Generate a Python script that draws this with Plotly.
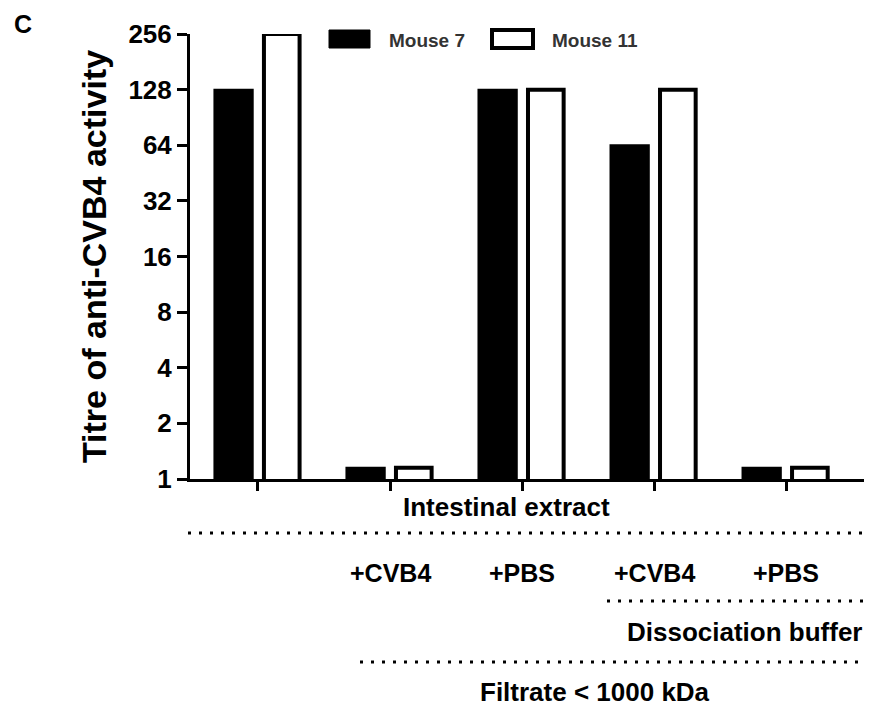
import plotly.graph_objects as go

# ---- data ----
categories = ["Intestinal extract", "IE + Filtrate + CVB4", "IE + Filtrate + PBS",
              "IE + Filtrate + DB + CVB4", "IE + Filtrate + DB + PBS"]
mouse7 = [128, 1.15, 128, 64, 1.15]
mouse11 = [256, 1.15, 128, 128, 1.15]
series_names = ["Mouse 7", "Mouse 11"]
y_ticks = [1, 2, 4, 8, 16, 32, 64, 128, 256]
sub_labels = ["", "+CVB4", "+PBS", "+CVB4", "+PBS"]
group_labels = ["Intestinal extract", "Dissociation buffer", "Filtrate < 1000 kDa"]
y_title = "Titre of anti-CVB4 activity"
panel_label = "C"

FONT = "Liberation Sans"

# screen-space plot area (page has an 8px body margin)
PX0, PX1, PY0, PY1 = 190, 864, 34, 479


def px(xp):
    return (xp - PX0) / (PX1 - PX0)


def py(yp):
    return (PY1 - yp) / (PY1 - PY0)


fig = go.Figure()
fig.add_trace(go.Bar(x=categories, y=mouse7, name=series_names[0],
                     marker=dict(color="black", line=dict(color="black", width=2)),
                     offset=-0.33, width=0.29, showlegend=False))
fig.add_trace(go.Bar(x=categories, y=mouse11, name=series_names[1],
                     marker=dict(color="white", line=dict(color="black", width=4)),
                     offset=0.045, width=0.27, showlegend=False))

fig.update_layout(
    width=864, height=698,
    margin=dict(l=182, r=8, t=26, b=227),
    paper_bgcolor="white", plot_bgcolor="white",
    barmode="overlay",
    font=dict(family=FONT, color="black"),
    xaxis=dict(type="category", categoryorder="array", categoryarray=categories,
               range=[-0.515, 4.59], showline=True, linewidth=3, linecolor="black",
               ticks="outside", ticklen=9, tickwidth=3, tickcolor="black",
               showticklabels=False, showgrid=False, zeroline=False),
    yaxis=dict(type="log", range=[0, 2.40824], tickvals=y_ticks,
               ticktext=[str(v) for v in y_ticks],
               showline=True, linewidth=3, linecolor="black",
               ticks="outside", ticklen=10, tickwidth=3, tickcolor="black",
               tickfont=dict(size=26, family=FONT, weight="bold"),
               showgrid=False, zeroline=False,
               title=dict(text=y_title, font=dict(size=34, family=FONT, weight="bold"),
                          standoff=12)),
)

# custom legend
leg = [(329, 370, "black", 1), (492, 533, "white", 4)]
for (x0, x1, col, lw), nm in zip(leg, series_names):
    fig.add_shape(type="rect", xref="paper", yref="paper",
                  x0=px(x0), x1=px(x1), y0=py(48), y1=py(30),
                  fillcolor=col, line=dict(color="black", width=lw))
    fig.add_annotation(text=nm, xref="paper", yref="paper",
                       x=px(x1 + 17), y=py(40),
                       xanchor="left", yanchor="middle", showarrow=False,
                       font=dict(size=19, family=FONT, color="#333333", weight="bold"))

# panel label
fig.add_annotation(text=panel_label, xref="paper", yref="paper",
                   x=px(12), y=py(24), xanchor="left", yanchor="middle",
                   showarrow=False, font=dict(size=25, family=FONT, weight="bold"))

# category sub-labels
for c, t in zip(categories, sub_labels):
    if t:
        fig.add_annotation(text=t, x=c, xref="x", yref="paper", y=py(573),
                           xanchor="center", yanchor="middle", showarrow=False,
                           font=dict(size=25, family=FONT, weight="bold"))

# group labels
for t, (xc, yc) in zip(group_labels, [(506, 507), (744, 632), (595, 692)]):
    fig.add_annotation(text=t, xref="paper", yref="paper", x=px(xc), y=py(yc),
                       xanchor="center", yanchor="middle", showarrow=False,
                       font=dict(size=26, family=FONT, weight="bold"))

# dotted separators
for x0, x1, yy in [(188, 868, 533), (607, 868, 601), (360, 868, 662)]:
    fig.add_shape(type="line", xref="paper", yref="paper", x0=px(x0), x1=px(x1),
                  y0=py(yy), y1=py(yy), line=dict(color="black", width=3, dash="3px,8px"))

fig.write_html("out.html")
